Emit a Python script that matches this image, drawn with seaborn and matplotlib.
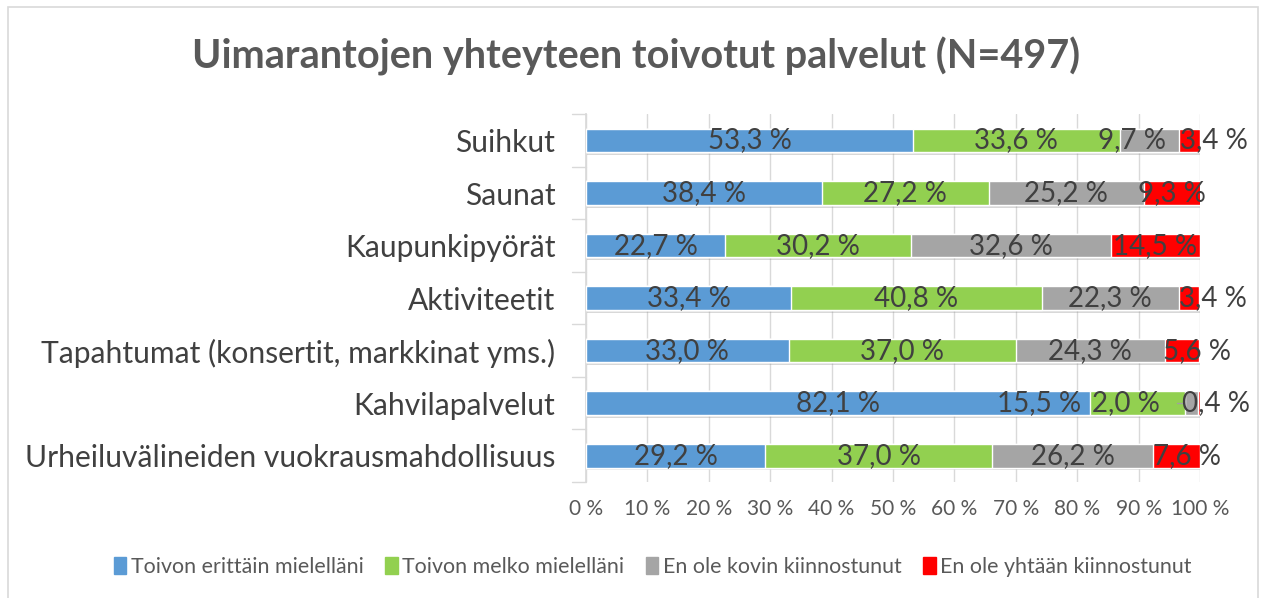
import matplotlib
matplotlib.use("Agg")
import matplotlib.pyplot as plt
import matplotlib.patheffects as pe
from matplotlib.patches import Rectangle
import numpy as np
import pandas as pd
import seaborn as sns

# Data
categories = [
    "Suihkut",
    "Saunat",
    "Kaupunkipyörät",
    "Aktiviteetit",
    "Tapahtumat (konsertit, markkinat yms.)",
    "Kahvilapalvelut",
    "Urheiluvälineiden vuokrausmahdollisuus",
]
series_names = [
    "Toivon erittäin mielelläni",
    "Toivon melko mielelläni",
    "En ole kovin kiinnostunut",
    "En ole yhtään kiinnostunut",
]
erittain = [53.3, 38.4, 22.7, 33.4, 33.0, 82.1, 29.2]
melko = [33.6, 27.2, 30.2, 40.8, 37.0, 15.5, 37.0]
ei_kovin = [9.7, 25.2, 32.6, 22.3, 24.3, 2.0, 26.2]
ei_yhtaan = [3.4, 9.3, 14.5, 3.4, 5.6, 0.4, 7.6]
x_ticks = [0, 10, 20, 30, 40, 50, 60, 70, 80, 90, 100]

colors = ["#5B9BD5", "#92D050", "#A5A5A5", "#FF0000"]
text_col = "#404040"

# label nudges (percent units) where the original labels were moved
label_nudge = {(0, 2): -2.9, (0, 3): 3.9, (3, 3): 3.9, (4, 3): 2.4,
               (5, 1): -16.0, (5, 2): -10.7, (5, 3): 2.8, (6, 3): 1.6}

sns.set_theme(style="white")
plt.rcParams["font.family"] = ["Lato", "DejaVu Sans"]

df = pd.DataFrame({"kategoria": categories,
                   series_names[0]: erittain,
                   series_names[1]: melko,
                   series_names[2]: ei_kovin,
                   series_names[3]: ei_yhtaan})
cum = df[series_names].cumsum(axis=1)

fig = plt.figure(figsize=(12.62, 5.98), dpi=100)
ax = fig.add_axes([0.4643, 0.194, 0.4866, 0.615])

# stacked bars: draw cumulative totals, widest first
for i in range(3, -1, -1):
    sns.barplot(x=cum[series_names[i]], y=df["kategoria"], color=colors[i],
                width=0.45, ax=ax, saturation=1, label=series_names[i],
                zorder=3)
# soft shadow only on the full-width bars
for p in ax.containers[0]:
    p.set_path_effects([pe.SimplePatchShadow(offset=(1, -2), shadow_rgbFace="#909090", alpha=0.35), pe.Normal()])

# data labels
vals = [erittain, melko, ei_kovin, ei_yhtaan]
for r in range(len(categories)):
    left = 0
    for s in range(4):
        v = vals[s][r]
        xc = left + v / 2 + label_nudge.get((r, s), 0)
        ax.text(xc, r, f"{v:.1f} %".replace(".", ","), ha="center", va="center",
                fontsize=20, color=text_col, zorder=5)
        left += v
# leader line for the small value in Kahvilapalvelut
ax.plot([96.2, 97.4], [5, 5], color="#A0A0A0", lw=1, zorder=4)

ax.set_xlim(0, 100)
ax.set_ylim(6.5, -0.5)
ax.set_xticks(x_ticks)
ax.set_xticklabels([f"{t} %" for t in x_ticks], fontsize=15, color="#595959")
ax.set_xlabel("")
ax.set_ylabel("")
ax.tick_params(axis="y", labelsize=21.6, labelcolor=text_col, length=0, pad=22)
ax.tick_params(axis="x", length=0, pad=12)
ax.grid(axis="x", color="#D9D9D9", lw=1, zorder=0)
ax.set_axisbelow(True)
for sp in ["top", "right", "bottom"]:
    ax.spines[sp].set_visible(False)
ax.spines["left"].set_color("#D9D9D9")
# category separator ticks on the y axis
for b in np.arange(-0.5, 7, 1):
    ax.plot([-2.2, 0], [b, b], color="#D9D9D9", lw=1, clip_on=False)

if ax.legend_:
    ax.legend_.remove()
handles = [Rectangle((0, 0), 1, 1, color=c) for c in colors]
fig.legend(handles, series_names, loc="center", bbox_to_anchor=(0.517, 0.052),
           ncol=4, frameon=False, fontsize=15.4, handlelength=0.6, handleheight=0.8,
           handletextpad=0.2, columnspacing=1.0, labelcolor="#595959")

fig.text(0.504, 0.905, "Uimarantojen yhteyteen toivotut palvelut (N=497)",
         ha="center", va="center", fontsize=28.5, fontweight="bold", color="#595959")

fig.add_artist(Rectangle((0.0065, -0.01), 0.9905, 0.998, transform=fig.transFigure,
                         fill=False, edgecolor="#D9D9D9", lw=1.2))

fig.savefig("out.png", dpi=100)
